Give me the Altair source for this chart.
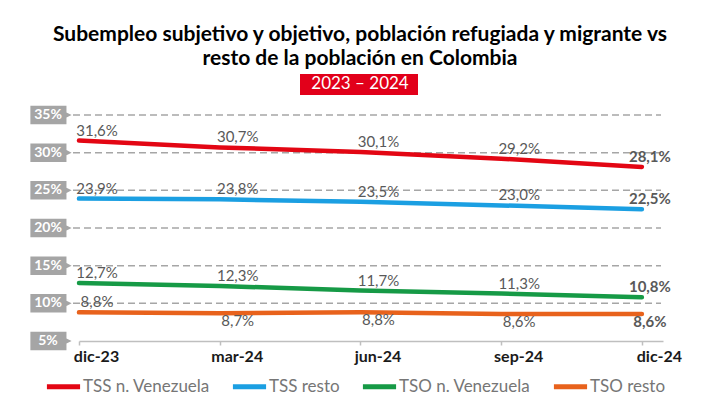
import altair as alt
import pandas as pd

# ---- data ----
periods = ["dic-23", "mar-24", "jun-24", "sep-24", "dic-24"]
series_names = ["TSS n. Venezuela", "TSS resto", "TSO n. Venezuela", "TSO resto"]
tss_ven = [31.6, 30.7, 30.1, 29.2, 28.1]
tss_resto = [23.9, 23.8, 23.5, 23.0, 22.5]
tso_ven = [12.7, 12.3, 11.7, 11.3, 10.8]
tso_resto = [8.8, 8.7, 8.8, 8.6, 8.6]
series_colors = ["#e30613", "#1b9fe2", "#169a46", "#e8621c"]
y_ticks = [5, 10, 15, 20, 25, 30, 35]
title_lines = ["Subempleo subjetivo y objetivo, población refugiada y migrante vs",
               "resto de la población en Colombia"]
subtitle = "2023 – 2024"

rows = []
for name, vals in zip(series_names, [tss_ven, tss_resto, tso_ven, tso_resto]):
    for i, (p, v) in enumerate(zip(periods, vals)):
        rows.append({"idx": i, "period": p, "series": name, "value": v,
                     "label": f"{v:.1f}".replace(".", ",") + "%",
                     "last": i == len(periods) - 1})
df = pd.DataFrame(rows)
grid_df = pd.DataFrame({"v": y_ticks, "t": [f"{v}%" for v in y_ticks]})

FONT = "Lato"
xscale = alt.Scale(domain=[0, 4.15], nice=False, zero=False)
yscale = alt.Scale(domain=[5, 35], nice=False, zero=False)
label_expr = "[" + ",".join(f"'{p}'" for p in periods) + "][datum.value]"

base = alt.Chart(df)

grid = alt.Chart(grid_df).transform_filter("datum.v > 5").mark_rule(
    color="#a6a6a6", strokeWidth=1.5, strokeDash=[7, 4]
).encode(y=alt.Y("v:Q", scale=yscale, axis=None), x=alt.value(-6), x2=alt.value(582))

box_path = "M-1,-0.45L0.75,-0.45L0.75,-0.125L1,0L0.75,0.125L0.75,0.45L-1,0.45Z"
ybox = alt.Chart(grid_df).mark_point(
    shape=box_path, size=1700, filled=True, color="#a5a5a5", opacity=1, strokeWidth=0
).encode(y=alt.Y("v:Q", scale=yscale, axis=None), x=alt.value(-28))
ytext = alt.Chart(grid_df).mark_text(
    font=FONT, fontWeight="bold", fontSize=14, color="white", align="center", baseline="middle"
).encode(y=alt.Y("v:Q", scale=yscale, axis=None), x=alt.value(-31), text="t:N")

lines = base.mark_line(strokeWidth=4.5, strokeCap="round").encode(
    x=alt.X("idx:Q", scale=xscale,
            axis=alt.Axis(values=list(range(len(periods))), labelExpr=label_expr, title=None,
                          grid=False, domainColor="#bfbfbf", domainWidth=1.5,
                          tickColor="#bfbfbf", tickSize=4, tickWidth=1.5,
                          labelFont=FONT, labelFontWeight="bold", labelFontSize=16,
                          labelColor="#1a1a1a", labelPadding=3, labelOffset=17,
                          labelFlush=False)),
    y=alt.Y("value:Q", scale=yscale, axis=None),
    color=alt.Color("series:N", scale=alt.Scale(domain=series_names, range=series_colors),
                    legend=alt.Legend(orient="none", legendX=-35, legendY=252,
                                      direction="horizontal", columns=4, title=None,
                                      symbolType="stroke", symbolSize=1100,
                                      symbolStrokeWidth=5, labelOffset=0,
                                      columnPadding=12, padding=0,
                                      labelFont=FONT, labelFontSize=17,
                                      labelColor="#767676")),
)


def vlabels(expr, dy, weight, dx):
    return base.transform_filter(expr).mark_text(
        font=FONT, fontSize=15, fontWeight=weight, color="#595959",
        align="center", baseline="middle", dx=dx, dy=dy
    ).encode(x=alt.X("idx:Q", scale=xscale), y=alt.Y("value:Q", scale=yscale), text="label:N")


below = "datum.series == 'TSO resto' && datum.idx > 0"
lab1 = vlabels(f"!({below}) && !datum.last", -10, "normal", 18)
lab2 = vlabels(f"({below}) && !datum.last", 8, "normal", 18)
lab3 = vlabels(f"!({below}) && datum.last", -10, "bold", 8)
lab4 = vlabels(f"({below}) && datum.last", 8, "bold", 8)

t1 = alt.Chart(pd.DataFrame({"t": [title_lines[0]]})).mark_text(
    font=FONT, fontWeight="bold", fontSize=21, color="black", align="center", baseline="alphabetic"
).encode(text="t:N", x=alt.value(281), y=alt.value(-74))
t2 = alt.Chart(pd.DataFrame({"t": [title_lines[1]]})).mark_text(
    font=FONT, fontWeight="bold", fontSize=21, color="black", align="center", baseline="alphabetic"
).encode(text="t:N", x=alt.value(281), y=alt.value(-50))
redbox = alt.Chart(pd.DataFrame({"t": [subtitle]})).mark_rect(color="#e2001a").encode(
    x=alt.value(221), x2=alt.value(339), y=alt.value(-41), y2=alt.value(-20))
sub = alt.Chart(pd.DataFrame({"t": [subtitle]})).mark_text(
    font=FONT, fontSize=17, color="white", align="center", baseline="alphabetic"
).encode(text="t:N", x=alt.value(281), y=alt.value(-26))

chart = alt.layer(grid, ybox, ytext, lines, lab1, lab2, lab3, lab4, t1, t2, redbox, sub).properties(
    width=584, height=226, autosize="none",
    padding={"left": 71, "top": 107, "right": 30, "bottom": 60},
    background="white",
).configure_view(stroke=None)

chart.save("out.html", embed_options={"renderer": "svg", "actions": False})
